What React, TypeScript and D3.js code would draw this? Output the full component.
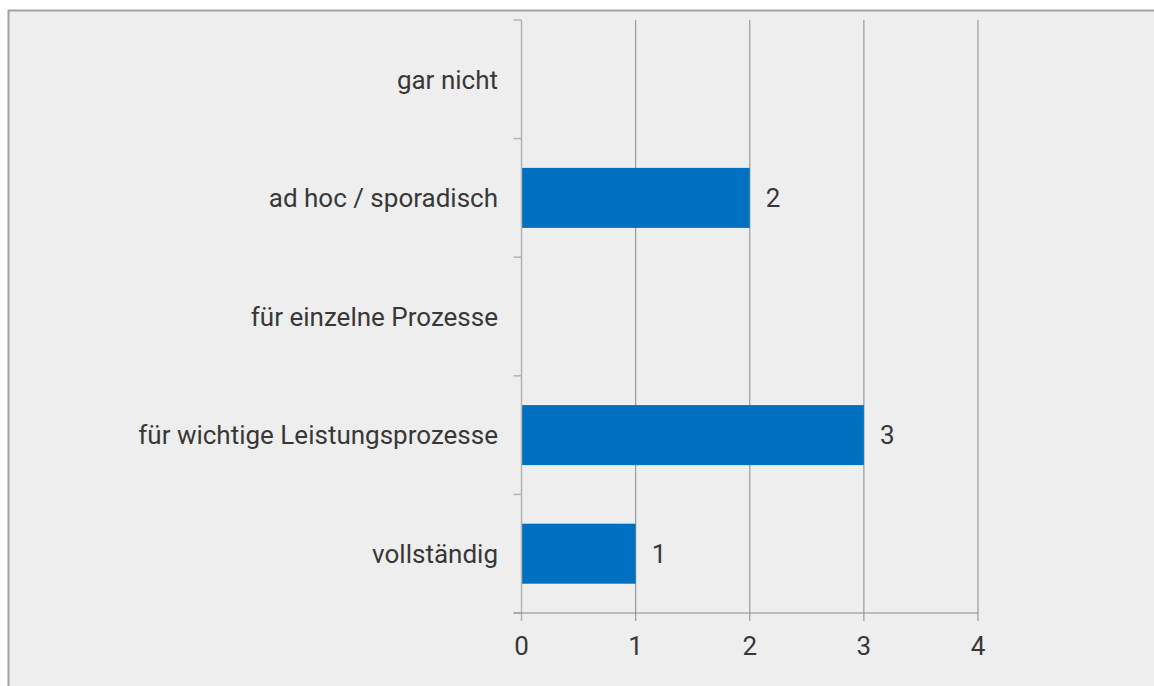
import React from "react";
import * as d3 from "d3";

const categories = ["gar nicht", "ad hoc / sporadisch", "für einzelne Prozesse", "für wichtige Leistungsprozesse", "vollständig"];
const values = [0, 2, 0, 3, 1];
const xTicks = [0, 1, 2, 3, 4];

export default function App() {
  const W = 1154, H = 686;
  const left = 521.5, right = 978, top = 20, bottom = 613;
  const x = d3.scaleLinear().domain([0, 4]).range([left, right]);
  const y = d3.scaleBand<string>().domain(categories).range([top, bottom]).paddingInner(0.494).paddingOuter(0.247);
  const bandStep = (bottom - top) / categories.length;
  const font = "Roboto, 'Liberation Sans', Arial, sans-serif";
  const fs = 26;
  return (
    <svg width={W} height={H} style={{ position: "absolute", left: 0, top: 0, display: "block" }}>
      <rect x={0} y={0} width={W} height={H} fill="#ffffff" />
      <rect x={8.5} y={10.5} width={W + 10} height={H + 10} fill="#eeeeee" stroke="#a0a0a0" strokeWidth={2} />
      {xTicks.slice(1).map((t) => (
        <line key={"g" + t} x1={x(t)} x2={x(t)} y1={top} y2={bottom + 8} stroke="#9a9a9a" strokeWidth={1.2} />
      ))}
      {values.map((v, i) => (
        <rect key={"b" + i} x={x(0)} y={y(categories[i])!} width={x(v) - x(0)} height={y.bandwidth()} fill="#0070c0" />
      ))}
      <line x1={x(0)} x2={x(0)} y1={top} y2={bottom + 8} stroke="#b4b4b4" strokeWidth={1.5} />
      {d3.range(categories.length + 1).map((i) => (
        <line key={"yt" + i} x1={left - 8} x2={left} y1={top + i * bandStep} y2={top + i * bandStep} stroke="#b4b4b4" strokeWidth={1.5} />
      ))}
      <line x1={left - 8} x2={right} y1={bottom} y2={bottom} stroke="#8c8c8c" strokeWidth={1.2} />
      {xTicks.map((t) => (
        <text key={"xl" + t} x={x(t)} y={655} textAnchor="middle" fontFamily={font} fontSize={fs} fill="#383838">{t}</text>
      ))}
      {categories.map((c) => (
        <text key={"yl" + c} x={498} y={y(c)! + y.bandwidth() / 2} dy="0.36em" textAnchor="end" fontFamily={font} fontSize={fs} fill="#383838">{c}</text>
      ))}
      {values.map((v, i) => v > 0 ? (
        <text key={"v" + i} x={x(v) + 16} y={y(categories[i])! + y.bandwidth() / 2} dy="0.36em" fontFamily={font} fontSize={fs} fill="#383838">{v}</text>
      ) : null)}
    </svg>
  );
}
